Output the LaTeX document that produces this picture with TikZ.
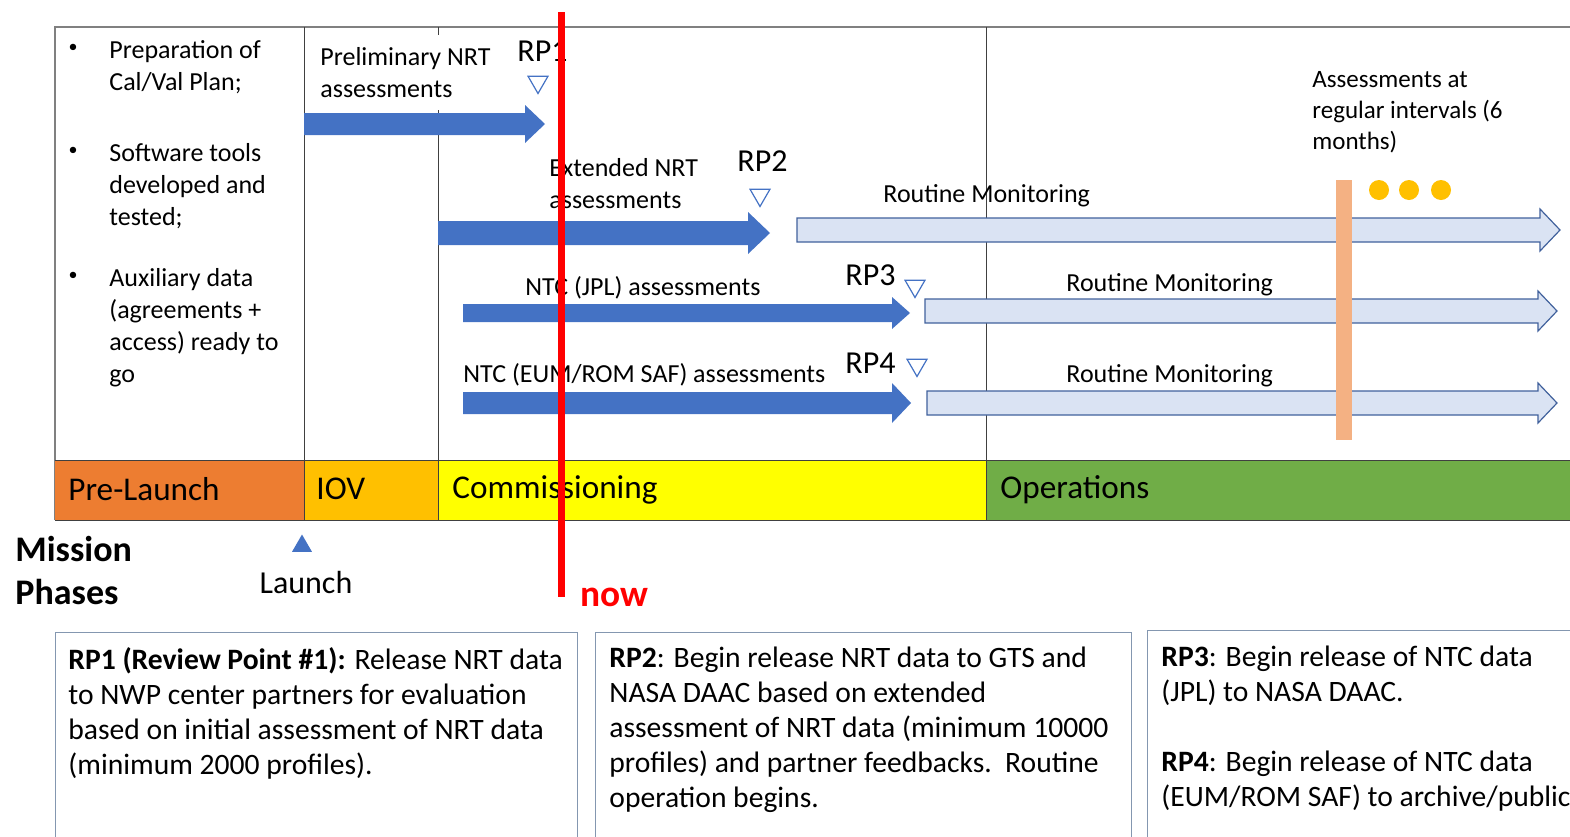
\documentclass[tikz,border=0pt]{standalone}
\usepackage{fontspec}
\setmainfont{Carlito}
\usetikzlibrary{shapes.geometric}

\definecolor{barblue}{HTML}{4472C4}
\definecolor{lightblue}{HTML}{DAE3F3}
\definecolor{lineblue}{HTML}{41619C}
\definecolor{peach}{HTML}{F4B183}
\definecolor{gold}{HTML}{FFC000}
\definecolor{prelaunch}{HTML}{ED7D31}
\definecolor{iov}{HTML}{FFC000}
\definecolor{commish}{HTML}{FFFF00}
\definecolor{opsgreen}{HTML}{70AD47}
\definecolor{framegray}{HTML}{808080}
\definecolor{boxgray}{HTML}{8497B0}

% block arrow: [style]{x start}{x tip}{y}{body half}{head half}{head length}
\newcommand{\blockarrow}[7][]{%
  \draw[#1] (#2,#4-#5) -- (#3-#7,#4-#5) -- (#3-#7,#4-#6) -- (#3,#4)
    -- (#3-#7,#4+#6) -- (#3-#7,#4+#5) -- (#2,#4+#5) -- cycle;}

\begin{document}
\begin{tikzpicture}[x=0.5pt, y=-0.5pt,
    lbl/.style={font=\fontsize{13}{16}\selectfont, inner sep=0pt, align=left},
    rplbl/.style={font=\fontsize{16}{19}\selectfont, inner sep=0pt, anchor=west},
    rpmark/.style={draw=barblue, fill=white, regular polygon, regular polygon sides=3,
      shape border rotate=180, minimum size=11.5pt, inner sep=0pt, line width=0.6pt},
    phase/.style={font=\fontsize{16.6}{20}\selectfont, inner sep=0pt, anchor=west},
    darkarrow/.style={fill=barblue, draw=none},
    lightarrow/.style={fill=lightblue, draw=lineblue, line width=0.6pt},
    rpbox/.style={draw=boxgray, line width=0.7pt, anchor=north west, inner sep=0pt},
    boxtext/.style={font=\fontsize{14.8}{17.5}\selectfont, inner sep=0pt, align=left, anchor=north west}]
  \useasboundingbox (0,0) rectangle (1570,836);
  \clip (0,0) rectangle (1570,836);

  % Frame and phase bar
  \draw[framegray, line width=0.7pt] (55,520) -- (55,27) -- (1590,27);
  \fill[prelaunch] (55,460) rectangle (304,520);
  \fill[iov] (304,460) rectangle (438,520);
  \fill[commish] (438,460) rectangle (986,520);
  \fill[opsgreen] (986,460) rectangle (1590,520);
  \draw[black!75, line width=0.5pt] (55,460) -- (1590,460) (55,520) -- (1590,520);
  \foreach \xx in {304,438,986}
    \draw[black!75, line width=0.5pt] (\xx,27) -- (\xx,520);

  \node[phase] (prelaunchlbl) at (68,489) {Pre-Launch};
  \node[phase] (iovlbl) at (316,489) {IOV};
  \node[phase] (commishlbl) at (452,490) {Commissioning};
  \node[phase] (opslbl) at (1000,490) {Operations};

  % Pre-launch preparations
  \foreach \yy/\nm in {48/bulA,151/bulB,276/bulC}
    \node[lbl, font=\fontsize{9}{10}\selectfont] (\nm) at (73,\yy) {\textbullet};
  \node[lbl, anchor=north west] (prep) at (109,40) {Preparation of\\Cal/Val Plan;};
  \node[lbl, anchor=north west] (tools) at (109,143) {Software tools\\developed and\\tested;};
  \node[lbl, anchor=north west] (aux) at (109,268) {Auxiliary data\\(agreements +\\access) ready to\\go};

  % Assessments
  \node[lbl, anchor=north west, fill=white, inner ysep=6pt] (prelim) at (320,35) {Preliminary NRT\\assessments};
  \node[lbl, anchor=north west] (extended) at (549,158) {Extended NRT\\assessments};
  \node[lbl, anchor=west] (jpl) at (525,288) {NTC (JPL) assessments};
  \node[lbl, anchor=west] (eum) at (463,375) {NTC (EUM/ROM SAF) assessments};
  \node[lbl, anchor=west] (routineA) at (883,196) {Routine Monitoring};
  \node[lbl, anchor=west] (routineB) at (1066,285) {Routine Monitoring};
  \node[lbl, anchor=west] (routineC) at (1066,376) {Routine Monitoring};
  \node[lbl, anchor=north west, font=\fontsize{12.5}{15.5}\selectfont] (regular) at (1312,71) {Assessments at\\regular intervals (6\\months)};

  \blockarrow[darkarrow]{304}{545}{124}{11}{19}{20}
  \blockarrow[darkarrow]{438}{770}{233}{12}{21}{22}
  \blockarrow[darkarrow]{463}{910}{313}{9}{16}{18}
  \blockarrow[darkarrow]{463}{911}{403}{11}{20}{19}
  \blockarrow[lightarrow]{797}{1560}{230}{12}{21}{20}
  \blockarrow[lightarrow]{925}{1557}{311}{12}{20}{19}
  \blockarrow[lightarrow]{927}{1557}{403}{12}{20}{19}

  % Review points
  \node[rplbl] (rp1) at (517,51) {RP1};
  \node[rplbl] (rp2) at (737,161) {RP2};
  \node[rplbl] (rp3) at (845,275) {RP3};
  \node[rplbl] (rp4) at (845,363) {RP4};
  \node[rpmark] (rp1m) at (538,82) {};
  \node[rpmark] (rp2m) at (760,195) {};
  \node[rpmark] (rp3m) at (915,286) {};
  \node[rpmark] (rp4m) at (917,365) {};

  % Regular intervals
  \fill[peach] (1336,180) rectangle (1352,440);
  \foreach \xx in {1379,1409,1441}
    \fill[gold] (\xx,190) circle[radius=10];

  % Launch and mission phases
  \node[fill=barblue, regular polygon, regular polygon sides=3, minimum size=11.5pt, inner sep=0pt] (launchm) at (302,546) {};
  \node[font=\fontsize{16}{19}\selectfont, inner sep=0pt] (launch) at (306,582) {Launch};
  \node[font=\fontsize{18}{21.5}\selectfont\bfseries, anchor=north west, inner sep=0pt, align=left] (mission) at (15,536) {Mission\\Phases};

  % Now
  \coordinate (nowtop) at (561,12);
  \coordinate (nowbot) at (561,597);
  \draw[red, line width=3.5pt] (nowtop) -- (nowbot);
  \node[font=\fontsize{18.7}{22}\selectfont\bfseries, text=red, inner sep=0pt, anchor=west] (now) at (580,597) {now};

  % Review point descriptions
  \node[rpbox, minimum width=261pt, minimum height=120pt] (boxA) at (55,632) {};
  \node[rpbox, minimum width=268pt, minimum height=120pt] (boxB) at (595,632) {};
  \node[rpbox, minimum width=250pt, minimum height=120pt] (boxC) at (1147,630) {};
  \node[boxtext] (txtA) at ([shift={(13,15)}]boxA.north west)
    {\textbf{RP1 (Review Point \#1):} Release NRT data\\to NWP center partners for evaluation\\based on initial assessment of NRT data\\(minimum 2000 profiles).};
  \node[boxtext] (txtB) at ([shift={(14,15)}]boxB.north west)
    {\textbf{RP2}: Begin release NRT data to GTS and\\NASA DAAC based on extended\\assessment of NRT data (minimum 10000\\profiles) and partner feedbacks.\ \ Routine\\operation begins.};
  \node[boxtext] (txtC) at ([shift={(14,16)}]boxC.north west)
    {\textbf{RP3}: Begin release of NTC data\\(JPL) to NASA DAAC.\\[17.5pt]\textbf{RP4}: Begin release of NTC data\\(EUM/ROM SAF) to archive/public};
\end{tikzpicture}
\end{document}
